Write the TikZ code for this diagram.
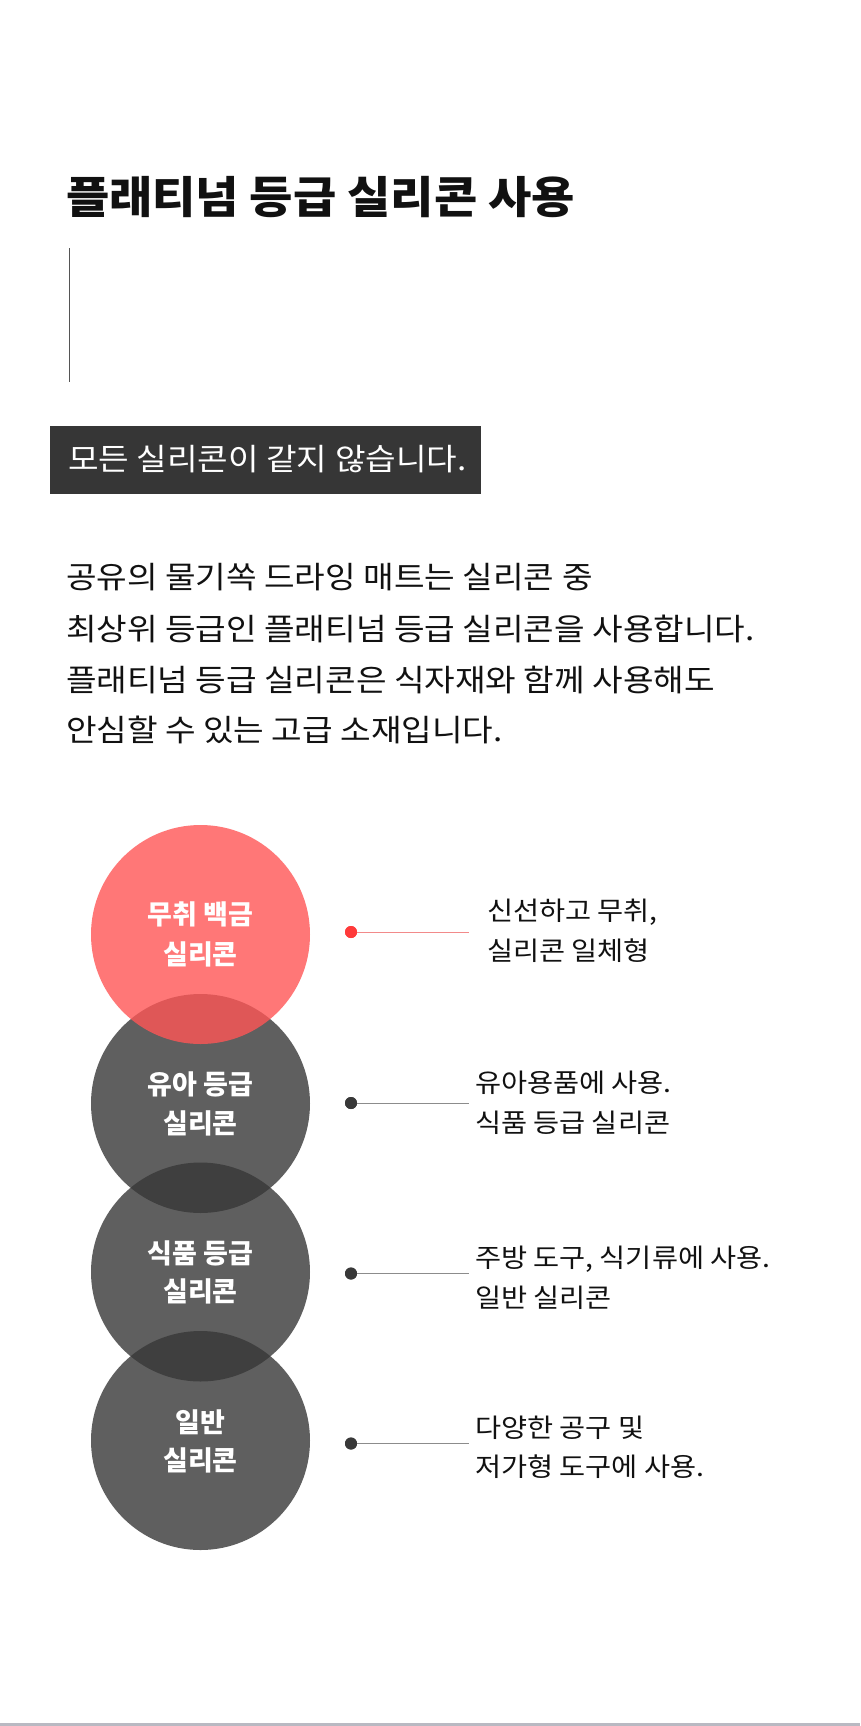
\documentclass[tikz,border=0pt]{standalone}
\usepackage{fontspec}
\setmainfont{Noto Sans CJK KR}
\newfontfamily\krtitle[FakeStretch=1.07]{Noto Sans CJK KR}
\newfontfamily\krwide[FakeStretch=1.09]{Noto Sans CJK KR}
\definecolor{ink}{HTML}{111111}
\definecolor{boxgray}{HTML}{363636}
\definecolor{vline}{HTML}{555555}
\definecolor{circgray}{RGB}{56,56,56}
\definecolor{circred}{RGB}{255,86,86}
\definecolor{dotred}{HTML}{FF3A3A}
\definecolor{dotgray}{HTML}{383838}
\definecolor{linered}{HTML}{F28A8A}
\definecolor{linegray}{HTML}{8C8C8C}
\definecolor{strip}{HTML}{B9B9C2}
\tikzset{
  txt/.style={inner sep=0pt, outer sep=0pt, anchor=base west, text=ink},
  titletxt/.style={txt, font=\krtitle\fontsize{44}{52}\selectfont\bfseries},
  boxtxt/.style={txt, text=white, font=\krwide\fontsize{30.5}{36}\selectfont},
  bodytxt/.style={txt, font=\krwide\fontsize{30.5}{36}\selectfont},
  circtxt/.style={inner sep=0pt, outer sep=0pt, anchor=base, text=white, font=\fontsize{27}{32}\selectfont\bfseries},
  sidetxt/.style={txt, font=\krwide\fontsize{26}{31}\selectfont},
  bigcirc/.style={circle, inner sep=0pt, minimum size=219pt, fill opacity=0.8},
  graycirc/.style={bigcirc, fill=circgray},
  redcirc/.style={bigcirc, fill=circred},
  dotnode/.style={circle, inner sep=0pt, minimum size=12pt},
  conn/.style={line width=1pt},
}
\begin{document}
\begin{tikzpicture}[x=1pt,y=-1pt]
\useasboundingbox (0,0) rectangle (860,1726);
\fill[white] (0,0) rectangle (860,1726);
\fill[strip] (0,1723) rectangle (860,1726);

% title
\node[titletxt] (title) at (66,213.5) {플래티넘 등급 실리콘 사용};
\coordinate (va) at (69.5,248);
\coordinate (vb) at (69.5,382);
\draw[vline, line width=1.4pt] (va) -- (vb);

% dark box
\node[fill=boxgray, inner sep=0pt, minimum width=431pt, minimum height=68pt, anchor=north west] (box) at (50,426) {};
\node[boxtxt] (boxt) at (68,470.5) {모든 실리콘이 같지 않습니다.};

% body
\node[bodytxt] (b1) at (66,588) {공유의 물기쏙 드라잉 매트는 실리콘 중};
\node[bodytxt] (b2) at (66,640.5) {최상위 등급인 플래티넘 등급 실리콘을 사용합니다.};
\node[bodytxt] (b3) at (66,691.5) {플래티넘 등급 실리콘은 식자재와 함께 사용해도};
\node[bodytxt] (b4) at (66,741.5) {안심할 수 있는 고급 소재입니다.};

% circles
\node[graycirc] (c2) at (200.5,1103.5) {};
\node[graycirc] (c3) at (200.5,1272) {};
\node[graycirc] (c4) at (200.5,1440.5) {};
\node[redcirc] (c1) at (200.5,934.5) {};

\node[circtxt] (t1a) at (200.5,924) {무취 백금};
\node[circtxt] (t1b) at (200.5,964) {실리콘};
\node[circtxt] (t2a) at (200.5,1094) {유아 등급};
\node[circtxt] (t2b) at (200.5,1133) {실리콘};
\node[circtxt] (t3a) at (200.5,1263) {식품 등급};
\node[circtxt] (t3b) at (200.5,1301) {실리콘};
\node[circtxt] (t4a) at (200.5,1432) {일반};
\node[circtxt] (t4b) at (200.5,1470) {실리콘};

% dots and connectors
\node[dotnode, fill=dotred] (d1) at (351,932) {};
\node[dotnode, fill=dotgray] (d2) at (351,1103) {};
\node[dotnode, fill=dotgray] (d3) at (351,1273.5) {};
\node[dotnode, fill=dotgray] (d4) at (351,1443.5) {};
\coordinate (e1) at (469,932);
\coordinate (e2) at (469,1103);
\coordinate (e3) at (469,1273.5);
\coordinate (e4) at (469,1443.5);
\draw[conn, linered] (d1.center) -- (e1);
\draw[conn, linegray] (d2.center) -- (e2);
\draw[conn, linegray] (d3.center) -- (e3);
\draw[conn, linegray] (d4.center) -- (e4);
\node[dotnode, fill=dotred] at (d1) {};
\node[dotnode, fill=dotgray] at (d2) {};
\node[dotnode, fill=dotgray] at (d3) {};
\node[dotnode, fill=dotgray] at (d4) {};

% side texts
\node[sidetxt] (s1a) at (487,920.5) {신선하고 무취,};
\node[sidetxt] (s1b) at (487,960.5) {실리콘 일체형};
\node[sidetxt] (s2a) at (475,1092.5) {유아용품에 사용.};
\node[sidetxt] (s2b) at (475,1132) {식품 등급 실리콘};
\node[sidetxt] (s3a) at (475,1267) {주방 도구, 식기류에 사용.};
\node[sidetxt] (s3b) at (475,1307) {일반 실리콘};
\node[sidetxt] (s4a) at (475,1437) {다양한 공구 및};
\node[sidetxt] (s4b) at (475,1476) {저가형 도구에 사용.};
\end{tikzpicture}
\end{document}
